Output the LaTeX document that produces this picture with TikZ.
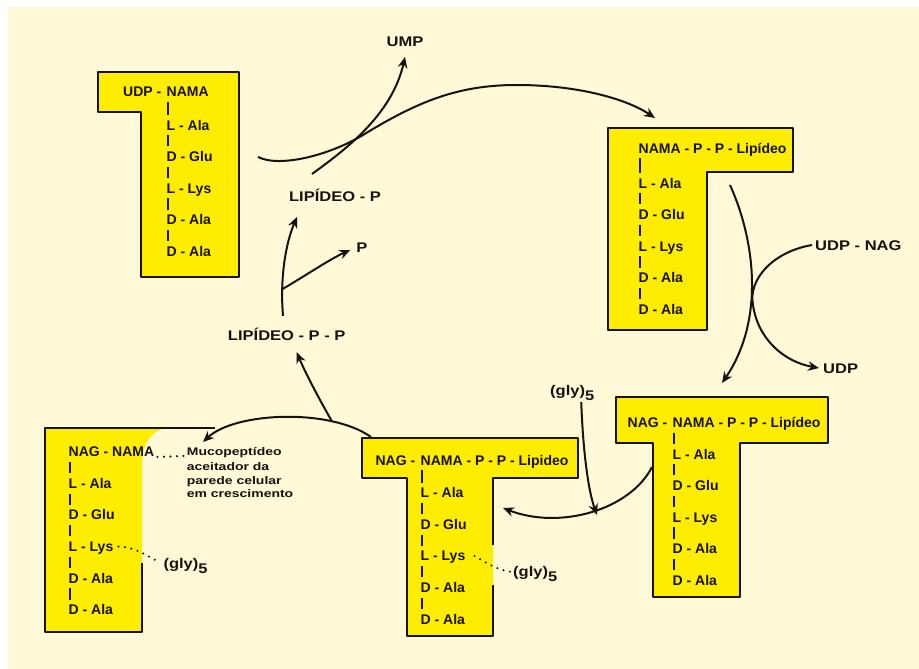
\documentclass[tikz,border=0pt]{standalone}
\usepackage{fontspec}
\setmainfont{Liberation Sans}
\newfontfamily\widefont[FakeStretch=1.18]{Liberation Sans}
\newfontfamily\smallwide[FakeStretch=1.27]{Liberation Sans}
\usetikzlibrary{arrows.meta}
\definecolor{cream}{RGB}{255,249,216}
\definecolor{tyellow}{RGB}{255,237,0}
\definecolor{ink}{RGB}{22,18,14}
\newcommand\pepchain[4]{%
  \node[lab] (#1a) at ({#2-1.5},{#3}) {L - Ala};
  \node[lab] (#1b) at ({#2-1.5},{#3+31.6}) {D - Glu};
  \node[lab] (#1c) at ({#2-1.5},{#3+63.2}) {L - Lys};
  \node[lab] (#1d) at ({#2-1.5},{#3+94.8}) {D - Ala};
  \node[lab] (#1e) at ({#2-1.5},{#3+126.4}) {D - Ala};
  \draw[bond] ([xshift=1.5pt]#4.south west) -- ([xshift=1.5pt]#1a.north west);
  \draw[bond] ([xshift=1.5pt]#1a.south west) -- ([xshift=1.5pt]#1b.north west);
  \draw[bond] ([xshift=1.5pt]#1b.south west) -- ([xshift=1.5pt]#1c.north west);
  \draw[bond] ([xshift=1.5pt]#1c.south west) -- ([xshift=1.5pt]#1d.north west);
  \draw[bond] ([xshift=1.5pt]#1d.south west) -- ([xshift=1.5pt]#1e.north west);
}
\begin{document}
\begin{tikzpicture}[x=1pt,y=-1pt,
  lab/.style={font=\bfseries\fontsize{14}{16}\selectfont, text=ink, inner sep=0pt, text height=10pt, text depth=0pt, anchor=west},
  free/.style={font=\widefont\bfseries\fontsize{14}{16}\selectfont, text=ink, inner sep=0pt, text height=10pt, text depth=0pt},
  smalltxt/.style={font=\smallwide\bfseries\fontsize{11}{12}\selectfont, text=ink, inner sep=0pt, text height=8pt, text depth=0pt, anchor=west},
  bond/.style={draw=ink, line width=1.6pt, shorten <=5pt, shorten >=5pt},
  tbox/.style={fill=tyellow, draw=ink, line width=2.2pt, line join=round},
  outl/.style={draw=ink, line width=2.2pt, line join=round},
  flow/.style={draw=ink, line width=2pt, -{Stealth[length=11pt,width=9.5pt]}},
  dotline/.style={draw=ink, line width=2.3pt, dash pattern=on 0pt off 6.5pt, line cap=round}
]
\useasboundingbox (0,0) rectangle (919,669);
\fill[white] (0,0) rectangle (919,669);
\fill[cream] (8,7) rectangle (919,669);

% ---- shapes
\path[tbox] (98,72) -- (239,72) -- (239,277) -- (141,277) -- (141,112) -- (98,112) -- cycle;
\path[tbox] (608,128) -- (793,128) -- (793,172) -- (707,172) -- (707,330) -- (608,330) -- cycle;
\path[tbox] (616,397) -- (828,397) -- (828,443) -- (740,443) -- (740,597) -- (653,597) -- (653,443) -- (616,443) -- cycle;
\fill[tyellow] (362,438) -- (578,438) -- (578,478) -- (493,478) -- (493,636) -- (407,636) -- (407,478) -- (362,478) -- cycle;
\draw[outl] (493,545) -- (493,478) -- (578,478) -- (578,438) -- (362,438) -- (362,478) -- (407,478) -- (407,636) -- (493,636) -- (493,585);
\fill[tyellow] (45,428) -- (167,428) .. controls (150,431) and (143,443) .. (142,465) -- (142,632) -- (45,632) -- cycle;
\draw[outl] (215,428) -- (45,428) -- (45,632) -- (142,632) -- (142,563);

% ---- chains
\node[lab, anchor=east] (tlp) at (161.5,91.7) {UDP -};
\node[lab] (tlh) at (166.5,91.7) {NAMA};
\pepchain{tl}{168}{125}{tlh}

\node[lab] (trh) at (638.5,148) {NAMA - P - P - Lipídeo};
\pepchain{tr}{640}{183}{trh}

\node[lab, anchor=east] (mrp) at (667.5,422.7) {NAG -};
\node[lab] (mrh) at (672.5,422.7) {NAMA - P - P - Lipídeo};
\pepchain{mr}{674}{454}{mrh}

\node[lab, anchor=east] (bmp) at (415.5,460) {NAG -};
\node[lab] (bmh) at (420.5,460) {NAMA - P - P - Lipideo};
\pepchain{bm}{422}{492.7}{bmh}

\node[lab] (blh) at (68.5,451.7) {NAG - NAMA};
\pepchain{bl}{70}{483.3}{blh}

% ---- small texts
\node[smalltxt] (m1) at (186.7,451.7) {Mucopeptídeo};
\node[smalltxt] (m2) at (186.7,466.2) {aceitador da};
\node[smalltxt] (m3) at (186.7,480.2) {parede celular};
\node[smalltxt] (m4) at (186.7,493.5) {em crescimento};
\draw[dotline] ([xshift=3pt]blh.south east) -- ([xshift=-2pt]m1.south west);

% ---- free labels
\node[free] (ump) at (405,41.7) {UMP};
\node[free] (lp) at (335,196.7) {LIPÍDEO - P};
\node[free] (pp) at (362,247) {P};
\node[free] (lpp) at (286.7,335) {LIPÍDEO - P - P};
\node[free, anchor=west] (udpnag) at (815,245) {UDP - NAG};
\node[free, anchor=west] (udp) at (823,368) {UDP};
\node[free, anchor=west] (g3) at (550,390) {(gly)\raisebox{-5pt}{5}};
\node[free, anchor=west] (g2) at (513,571.7) {(gly)\raisebox{-5pt}{5}};
\node[free, anchor=west] (g1) at (163.3,563) {(gly)\raisebox{-5pt}{5}};

% dotted links to (gly)5
\draw[dotline] ([xshift=5pt]blc.east) .. controls (135,547) and (148,556) .. ([xshift=-3pt]g1.west);
\draw[dotline] ([xshift=9pt]bmc.east) .. controls (488,564) and (498,570) .. ([xshift=-3pt]g2.west);

% ---- coordinates
\coordinate (a1s) at (258,157);
\coordinate (a1t) at (655,118);
\coordinate (a2s) at (312,174);
\coordinate (a3s) at (730,185);
\coordinate (a3t) at (722,383);
\coordinate (a4s) at (652,467);
\coordinate (a4t) at (503,508);
\coordinate (a5s) at (371,437);
\coordinate (a5t) at (203,442);

% ---- arrows
\draw[flow] (a1s) .. controls (280,168) and (330,155) .. (363,135)
   .. controls (420,100) and (460,85) .. (517,85)
   .. controls (575,85) and (625,98) .. (a1t);
\draw[flow] (a2s) .. controls (345,150) and (392,115) .. ([yshift=-10pt]ump.south);

\draw[flow] ([xshift=-3.7pt,yshift=14pt]lpp.north) .. controls (280,280) and (285,245) .. coordinate[pos=0.25] (brp) ([xshift=-38pt,yshift=-15pt]lp.south);
\draw[flow] (brp) .. controls (305,276) and (330,259) .. ([xshift=-6pt,yshift=-3pt]pp.west);

\draw[flow] (a5s) .. controls (330,408) and (235,412) .. coordinate[pos=0.25] (brl) (a5t);
\draw[flow] (brl) .. controls (318,397) and (305,372) .. ([xshift=10pt,yshift=-12pt]lpp.south);

\draw[flow] (a3s) .. controls (755,240) and (765,320) .. (a3t);
\draw[flow] ([xshift=-3pt]udpnag.west) .. controls (772,252) and (748,280) .. (753,305)
   .. controls (758,340) and (785,362) .. ([xshift=-4pt]udp.west);

\draw[flow] (a4s) .. controls (630,510) and (560,530) .. (a4t);
\draw[flow] ([xshift=9pt,yshift=-7pt]g3.south) .. controls (583,450) and (588,490) .. (597,515);
\end{tikzpicture}
\end{document}
